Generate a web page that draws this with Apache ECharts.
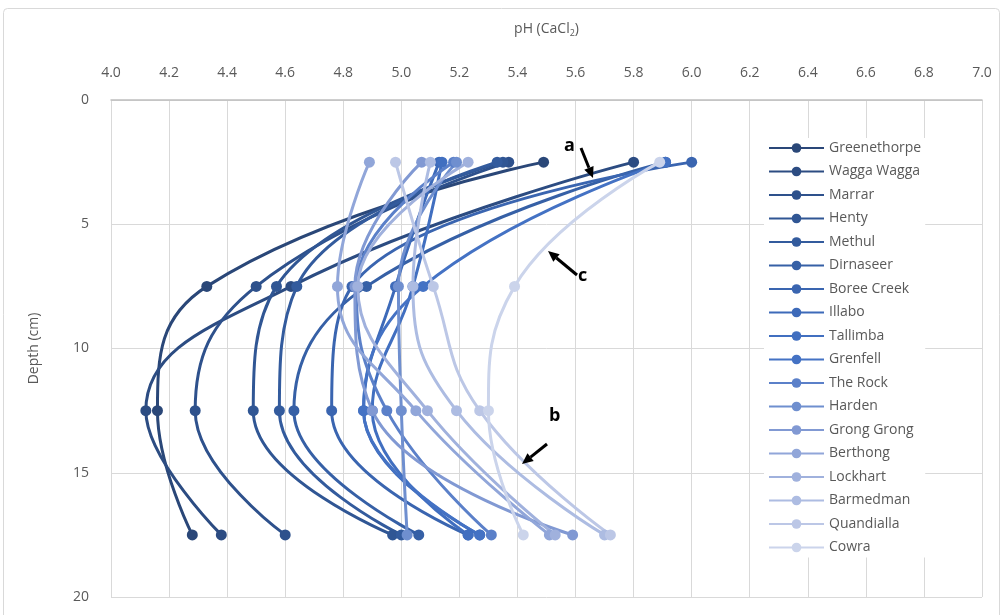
<!DOCTYPE html>
<html>
<head>
<meta charset="utf-8">
<script src="https://cdn.jsdelivr.net/npm/echarts@6/dist/echarts.min.js"></script>
<style>
html,body{margin:0;padding:0;background:#fff;}
#chart{width:1004px;height:615px;}
</style>
</head>
<body>
<div id="chart"></div>
<script>
// ---- data ----
const depths = [2.5, 7.5, 12.5, 17.5];           // depth (cm) of each sample
const sites = ['Greenethorpe','Wagga Wagga','Marrar','Henty','Methul','Dirnaseer',
  'Boree Creek','Illabo','Tallimba','Grenfell','The Rock','Harden','Grong Grong',
  'Berthong','Lockhart','Barmedman','Quandialla','Cowra'];
// pH (CaCl2) per site at depths 2.5, 7.5, 12.5, 17.5
const ph = [
  [5.49, 4.33, 4.16, 4.28],
  [5.80, 4.62, 4.12, 4.38],
  [5.37, 4.50, 4.29, 4.60],
  [5.35, 4.57, 4.49, 4.97],
  [5.33, 4.64, 4.58, 5.00],
  [5.91, 4.88, 4.63, 5.06],
  [6.00, 4.83, 4.76, 5.23],
  [5.13, 4.98, 4.87, 5.27],
  [5.14, 5.04, 4.90, 5.23],
  [5.91, 5.075, 4.87, 5.27],
  [5.18, 4.845, 4.95, 5.31],
  [5.19, 4.99, 5.00, 5.02],
  [5.07, 4.84, 4.90, 5.59],
  [4.89, 4.78, 5.05, 5.51],
  [5.23, 4.85, 5.09, 5.53],
  [5.10, 5.04, 5.19, 5.70],
  [4.98, 5.11, 5.27, 5.72],
  [5.89, 5.39, 5.30, 5.42]
];
const colors = ['#2a4778','#2c4c82','#2e518c','#305694','#335b9d','#3660a6',
  '#3a65b0','#3d6ab9','#416fc0','#4472c4','#5b80c9','#6f8fcf','#8199d3',
  '#91a6d9','#a0b1dd','#adbce2','#bcc7e6','#cbd4eb'];
const xMin = 4.0, xMax = 7.0, xStep = 0.2;
const yMin = 0, yMax = 20, yStep = 5;

const FONT = 'Open Sans';
const chart = echarts.init(document.getElementById('chart'), null, {renderer:'canvas'});

const series = sites.map((name, i) => ({
  name: name,
  type: 'line',
  smooth: 0.45,
  symbol: 'circle',
  symbolSize: 11,
  lineStyle: {width: 3, color: colors[i]},
  itemStyle: {color: colors[i]},
  emphasis: {disabled: true},
  data: depths.map((d, k) => [ph[i][k], d])
}));

function arrow(x1, y1, x2, y2) {
  const ang = Math.atan2(y2 - y1, x2 - x1);
  const L = 11, W = 5;
  const bx = x2 - L * Math.cos(ang), by = y2 - L * Math.sin(ang);
  return [
    {type:'line', shape:{x1:x1, y1:y1, x2:bx, y2:by}, style:{stroke:'#000', lineWidth:3}, z:100},
    {type:'polygon', shape:{points:[[x2,y2],[bx - W*Math.sin(ang), by + W*Math.cos(ang)],[bx + W*Math.sin(ang), by - W*Math.cos(ang)]]}, style:{fill:'#000'}, z:100}
  ];
}

const option = {
  animation: false,
  backgroundColor: '#fff',
  textStyle: {fontFamily: FONT},
  grid: {left: 111, right: 22, top: 100, bottom: 18, containLabel: false},
  xAxis: {
    type: 'value', position: 'top', min: xMin, max: xMax, interval: xStep,
    name: 'pH (CaCl{sub|2})', nameLocation: 'middle', nameGap: 62,
    nameTextStyle: {color:'#595959', fontSize: 14, fontFamily: FONT,
      rich: {sub: {fontSize: 9, verticalAlign: 'bottom', padding:[8,0,0,0], color:'#595959', fontFamily: FONT}}},
    axisLine: {show: true, lineStyle: {color: '#bfbfbf', width: 1.5}},
    axisTick: {show: false},
    axisLabel: {color: '#595959', fontSize: 14, margin: 20, fontFamily: FONT,
      formatter: v => v.toFixed(1)},
    splitLine: {show: true, lineStyle: {color: '#d9d9d9', width: 1}}
  },
  yAxis: {
    type: 'value', inverse: true, min: yMin, max: yMax, interval: yStep,
    name: 'Depth (cm)', nameLocation: 'middle', nameGap: 70,
    nameTextStyle: {color:'#595959', fontSize: 14, fontFamily: FONT},
    axisLine: {show: false},
    axisTick: {show: false},
    axisLabel: {color: '#595959', fontSize: 14, margin: 22, fontFamily: FONT},
    splitLine: {show: true, lineStyle: {color: '#d9d9d9', width: 1}}
  },
  legend: {
    orient: 'vertical', left: 764, top: 138,
    backgroundColor: '#fff',
    padding: [3, 4, 3, 4],
    itemWidth: 55, itemHeight: 12, itemGap: 9.5,
    textStyle: {color: '#595959', fontSize: 14, fontFamily: FONT},
    data: sites
  },
  graphic: [
    {type:'rect', shape:{x:3.5, y:8.5, width:996, height:620, r:4}, style:{fill:'none', stroke:'#d9d9d9', lineWidth:1}, z:-10, silent:true},
    {type:'text', left: 564, top: 137, style:{text:'a', font:'bold 18px "Open Sans"', fill:'#000'}, z:100},
    ...arrow(581, 148, 593, 178),
    {type:'text', left: 578, top: 267, style:{text:'c', font:'bold 18px "Open Sans"', fill:'#000'}, z:100},
    ...arrow(577, 275, 548, 251),
    {type:'text', left: 549, top: 407, style:{text:'b', font:'bold 18px "Open Sans"', fill:'#000'}, z:100},
    ...arrow(547, 444, 522, 464)
  ],
  series: series
};
chart.setOption(option);
</script>
</body>
</html>
